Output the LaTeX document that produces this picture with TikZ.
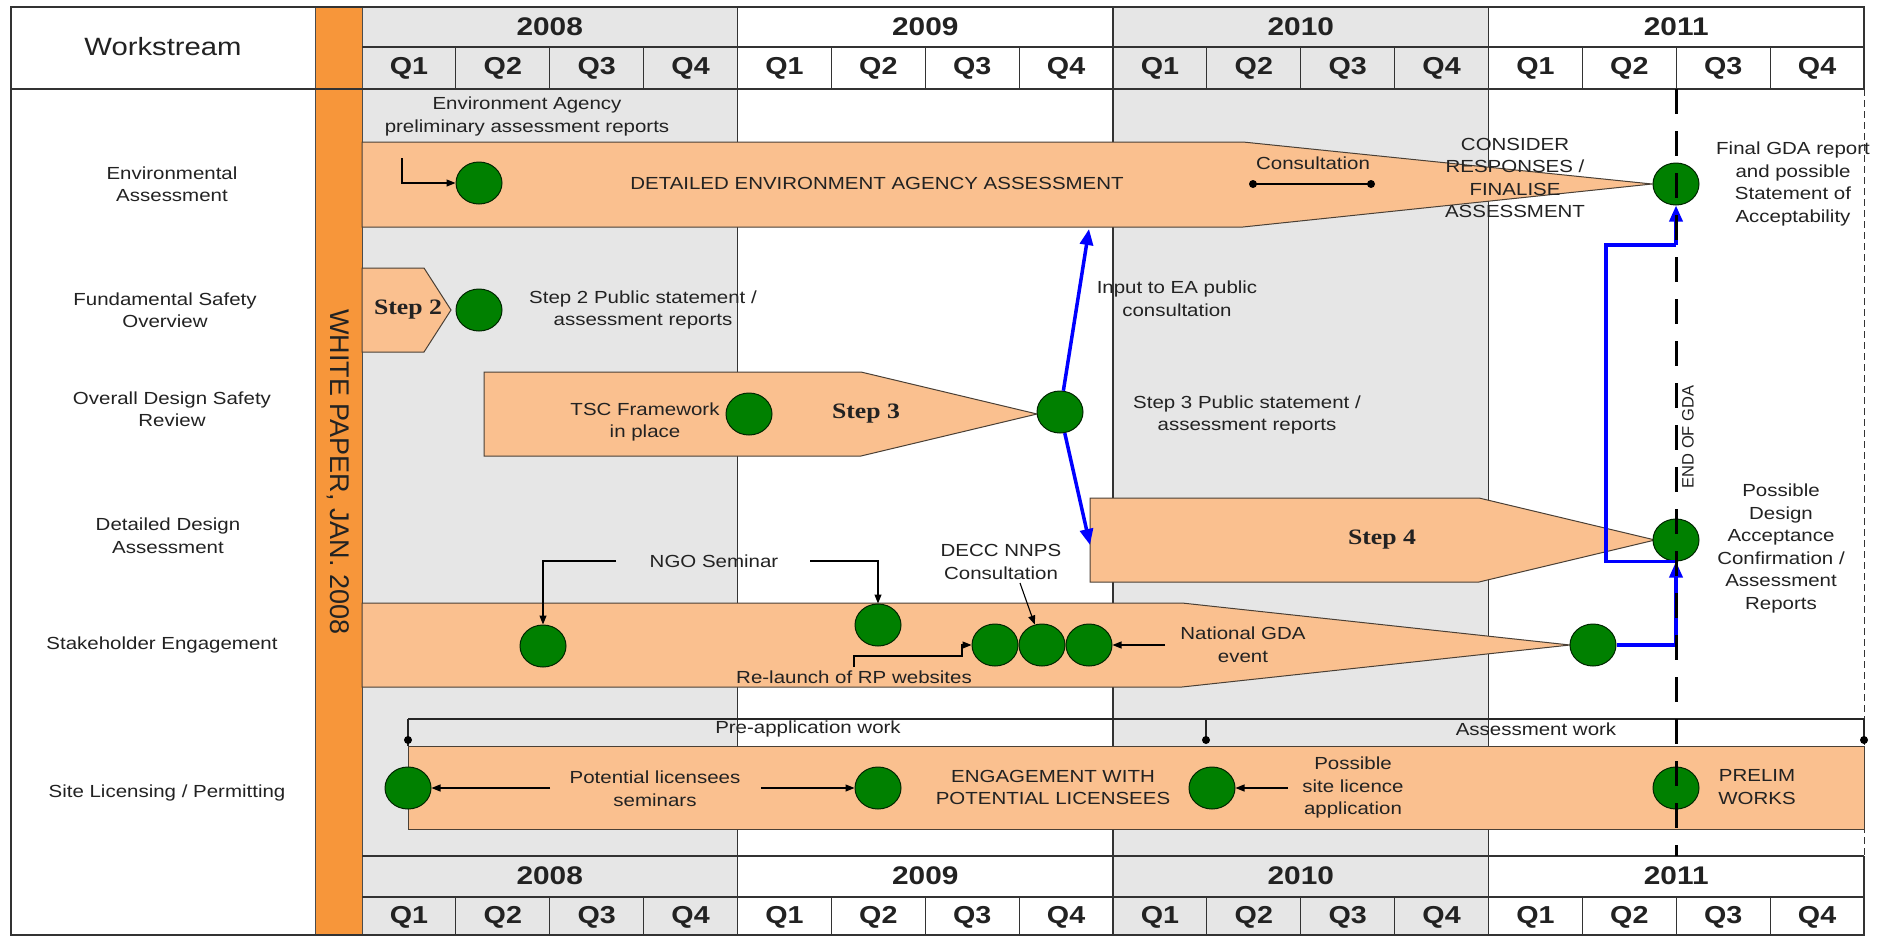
\documentclass[tikz,border=0pt]{standalone}
\usepackage{fontspec}
\setmainfont{Liberation Sans}[FakeStretch=1.17]
\newfontfamily\stepfont{Liberation Serif}[FakeStretch=1.17]
\newfontfamily\plainsans{Liberation Sans}
\usetikzlibrary{arrows.meta,shapes.geometric}
\definecolor{bandfill}{HTML}{FAC08F}
\definecolor{barorange}{HTML}{F7963A}
\definecolor{gridgray}{HTML}{E6E6E6}
\definecolor{dotgreen}{HTML}{008000}
\definecolor{bandline}{HTML}{4A4036}
\definecolor{txtcol}{HTML}{222222}
\definecolor{gdablue}{HTML}{0000FF}
\tikzset{
 lbl/.style={font=\fontsize{17.5}{22.5}\selectfont, align=center, inner sep=0pt, text=txtcol},
 yearlbl/.style={font=\fontsize{25.5}{28}\selectfont\bfseries, inner sep=0pt, text=txtcol},
 qlbl/.style={font=\fontsize{24.5}{28}\selectfont\bfseries, inner sep=0pt, text=txtcol},
 steplbl/.style={font=\stepfont\fontsize{22}{24}\selectfont\bfseries, inner sep=0pt, text=txtcol},
 band/.style={fill=bandfill, draw=bandline, line width=1pt},
 milestone/.style={ellipse, fill=dotgreen, draw=black!70!dotgreen, line width=1pt, minimum width=46pt, minimum height=42pt, inner sep=0pt},
 grid/.style={draw=black!80, line width=1.2pt},
 arr/.style={draw=black, line width=1.1pt, -{Triangle[length=9pt,width=7pt]}},
 bluearr/.style={draw=gdablue, line width=3.5pt, -{Triangle[length=16pt,width=13pt]}},
 blueline/.style={draw=gdablue, line width=3.5pt},
}
\begin{document}
\begin{tikzpicture}[x=1pt,y=-1pt]
\useasboundingbox (0,0) rectangle (1885,937);
% backgrounds
\fill[white] (0,0) rectangle (1885,937);
\fill[gridgray] (362,7) rectangle (737.5,935);
\fill[gridgray] (1113,7) rectangle (1488.5,935);
% orange bar
\draw[fill=barorange, draw=black!70, line width=1pt] (315,7) rectangle (362,935);
% grid
\draw[grid] (1864,89) -- (1864,7) -- (11,7) -- (11,935) -- (1864,935) -- (1864,856);
\draw[draw=black!80, line width=1pt, dash pattern=on 7pt off 4pt] (1864,89) -- (1864,856);
\draw[grid] (11,89) -- (1864,89);
\draw[grid] (362,47) -- (1864,47);
\draw[grid] (362,856) -- (1864,856);
\draw[grid] (362,897) -- (1864,897);
\foreach \i in {1,2,3} {\draw[grid] ({362+375.5*\i},7) -- ({362+375.5*\i},935);}
\foreach \k in {1,2,3,5,6,7,9,10,11,13,14,15} {
  \draw[grid] ({362+93.875*\k},47) -- ({362+93.875*\k},89);
  \draw[grid] ({362+93.875*\k},897) -- ({362+93.875*\k},935);
}
\foreach \yr [count=\i from 0] in {2008,2009,2010,2011} {
  \node[yearlbl] (yt\i) at ({362+375.5*\i+187.75},27) {\yr};
  \node[yearlbl] (yb\i) at ({362+375.5*\i+187.75},876) {\yr};
}
\foreach \k in {0,...,15} {
  \pgfmathtruncatemacro\q{mod(\k,4)+1}
  \node[qlbl] (qt\k) at ({362+93.875*\k+46.94},68) {Q\q};
  \node[qlbl] (qb\k) at ({362+93.875*\k+46.94},917) {Q\q};
}
% left column
\node[font=\fontsize{25}{28}\selectfont, text=txtcol] (ws) at (163,47) {Workstream};
\node[lbl] (rEA) at (172,184) {Environmental\\Assessment};
\node[lbl] (rFS) at (165,310) {Fundamental Safety\\Overview};
\node[lbl] (rOD) at (172,409) {Overall Design Safety\\Review};
\node[lbl] (rDD) at (168,535.5) {Detailed Design\\Assessment};
\node[lbl] (rSE) at (162,645) {Stakeholder Engagement};
\node[lbl] (rSL) at (167,793) {Site Licensing / Permitting};
\node[rotate=-90, font=\plainsans\fontsize{27}{30}\selectfont, text=txtcol, inner sep=0pt] (wp) at (338.5,472) {WHITE PAPER, JAN. 2008};
% bands
\draw[band] (362,142) -- (1243,142) -- (1652,184) -- (1243,227) -- (362,227) -- cycle;
\draw[band] (362,268) -- (424,268) -- (451,310) -- (424,352) -- (362,352) -- cycle;
\draw[band] (484,372) -- (861,372) -- (1037,414) -- (861,456) -- (484,456) -- cycle;
\draw[band] (1090,498) -- (1479,498) -- (1655,540) -- (1479,582) -- (1090,582) -- cycle;
\draw[band] (362,603) -- (1182,603) -- (1570,645) -- (1182,687) -- (362,687) -- cycle;
\draw[band] (408,746) rectangle (1864,829);
% pre-application bracket
\draw[draw=black!85, line width=1.1pt] (408,719) -- (1864,719);
\draw[draw=black!85, line width=1.1pt] (408,719) -- (408,746);
\foreach \px in {408,1206,1864} {
  \draw[draw=black!85, line width=1.1pt] (\px,719) -- (\px,740);
  \fill[black] (\px,740) circle (4pt);
}
\node[lbl] (prea) at (808,729) {Pre-application work};
\node[lbl] (assw) at (1536,729) {Assessment work};
% milestones
\node[milestone] (ea1) at (479,183) {};
\node[milestone] (fgda) at (1676,184) {};
\node[milestone] (s2) at (479,310) {};
\node[milestone] (tsc) at (749,414) {};
\node[milestone] (s3) at (1060,412) {};
\node[milestone] (dda) at (1676,540) {};
\node[milestone] (ngo1) at (543,646) {};
\node[milestone] (ngo2) at (878,625) {};
\node[milestone] (se1) at (995,645) {};
\node[milestone] (se2) at (1042,645) {};
\node[milestone] (se3) at (1089,645) {};
\node[milestone] (se4) at (1593,645) {};
\node[milestone] (sl1) at (408,788) {};
\node[milestone] (sl2) at (878,788) {};
\node[milestone] (sl3) at (1212,788) {};
\node[milestone] (sl4) at (1676,788) {};
% texts in bands
\node[lbl] (eapre) at (527,116.5) {Environment Agency\\preliminary assessment reports};
\node[lbl] (deta) at (877,183) {DETAILED ENVIRONMENT AGENCY ASSESSMENT};
\node[lbl] (cons) at (1313,163) {Consultation};
\node[lbl] (consid) at (1515,178) {CONSIDER\\RESPONSES /\\FINALISE\\ASSESSMENT};
\node[lbl] (fgdat) at (1793,184) {Final GDA report\\and possible\\Statement of\\Acceptability};
\node[steplbl] (st2) at (408,310) {Step 2};
\node[lbl] (s2t) at (643,310) {Step 2 Public statement /\\assessment reports};
\node[lbl] (tsct) at (645,422) {TSC Framework\\in place};
\node[steplbl] (st3) at (866,414) {Step 3};
\node[lbl] (inea) at (1177,298.5) {Input to EA public\\consultation};
\node[lbl] (s3t) at (1247,415) {Step 3 Public statement /\\assessment reports};
\node[steplbl] (st4) at (1382,540) {Step 4};
\node[lbl] (ddat) at (1781,548.5) {Possible\\Design\\Acceptance\\Confirmation /\\Assessment\\Reports};
\node[lbl] (ngot) at (714,561) {NGO Seminar};
\node[lbl] (decc) at (1001,562) {DECC NNPS\\Consultation};
\node[lbl] (relt) at (854,677) {Re-launch of RP websites};
\node[lbl] (natg) at (1243,644.5) {National GDA\\event};
\node[lbl] (plst) at (655,788.5) {Potential licensees\\seminars};
\node[lbl] (engt) at (1053,787.5) {ENGAGEMENT WITH\\POTENTIAL LICENSEES};
\node[lbl] (pslt) at (1353,787.5) {Possible\\site licence\\application};
\node[lbl] (prel) at (1757,787) {PRELIM\\WORKS};
% black connectors
\coordinate (eaA) at (402,158);
\draw[arr] (eaA) |- (ea1);
\coordinate (c1) at (1253,184);
\coordinate (c2) at (1371,184);
\draw[draw=black, line width=1.1pt] (c1) -- (c2);
\fill[black] (c1) circle (4pt);
\fill[black] (c2) circle (4pt);
\coordinate (ngoL) at (616,561);
\coordinate (ngoR) at (810,561);
\draw[arr] (ngoL) -| (ngo1);
\draw[arr] (ngoR) -| (ngo2);
\coordinate (deccA) at (1020,583);
\draw[arr] (deccA) -- (se2);
\coordinate (rl1) at (854,667);
\coordinate (rl2) at (962,656);
\draw[arr] (rl1) |- (rl2) |- (se1);
\coordinate (ngA) at (1165,645);
\draw[arr] (ngA) -- (se3);
\coordinate (plA) at (550,788);
\coordinate (plB) at (761,788);
\draw[arr] (plA) -- (sl1);
\draw[arr] (plB) -- (sl2);
\coordinate (psA) at (1288,788);
\draw[arr] (psA) -- (sl3);
% blue connectors
\coordinate (eabot) at (1089,229);
\coordinate (s4in) at (1090,545);
\draw[bluearr] (s3) -- (eabot);
\draw[bluearr] (s3) -- (s4in);
\coordinate (bk2) at (1606,245);
\coordinate (bk3) at (1676,245);
\draw[blueline] (dda.south) -| (bk2) -- (bk3);
\draw[bluearr] (bk3) -- (fgda.south);
\draw[bluearr] (se4.east) -| (dda.south);
% end of GDA
\draw[draw=black, line width=3pt, dash pattern=on 25pt off 17pt] (1676,89) -- (1676,856);
\node[rotate=90, font=\plainsans\fontsize{16.5}{18}\selectfont, text=txtcol, inner sep=0pt] (eog) at (1688,437) {END OF GDA};
\end{tikzpicture}
\end{document}
